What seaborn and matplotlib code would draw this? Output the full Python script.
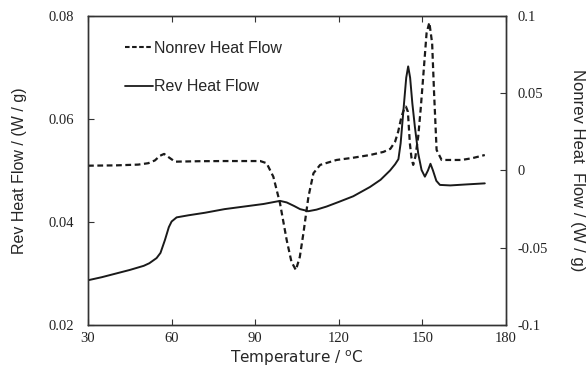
import matplotlib
matplotlib.use("Agg")
import matplotlib.pyplot as plt
import seaborn as sns
import pandas as pd
from matplotlib.lines import Line2D

# Reversing heat flow (left axis)
rev_temp = [30, 35, 40, 45, 50, 52, 54.6, 56, 57.6, 59, 60, 61.8, 66, 72, 79, 86, 93,
            98.9, 101.3, 104, 106.1, 109.1, 112, 115.6, 120, 125.2, 131.2, 135, 138.4,
            140.2, 141.4, 142.2, 143.2, 144.2, 144.9, 145.6, 146.4, 147.3, 148.5, 149.7,
            150.9, 152, 152.9, 153.8, 155, 156.3, 160, 166, 172.4]
rev_flow = [0.0287, 0.0293, 0.0300, 0.0307, 0.0315, 0.0320, 0.0330, 0.0340, 0.0365, 0.0390,
            0.0401, 0.0409, 0.0413, 0.0418, 0.0425, 0.0430, 0.0435,
            0.0441, 0.0438, 0.0431, 0.0425, 0.0421, 0.0424, 0.0430, 0.0439, 0.0450, 0.0468,
            0.0482, 0.0500, 0.0512, 0.0522, 0.0553, 0.0617, 0.0680, 0.0702, 0.0680, 0.0630,
            0.0585, 0.0533, 0.0501, 0.0488, 0.0500, 0.0513, 0.0500, 0.0480, 0.0472, 0.0471,
            0.0473, 0.0475]

# Non-reversing heat flow (right axis)
nonrev_temp = [30, 40, 48, 51.6, 54, 55.8, 57.3, 59, 61.2, 70, 79.2, 91.8, 94.1, 96.5,
               98.9, 101.3, 103, 104.6, 106, 107.3, 109.1, 110.9, 113.3, 119.2, 125,
               131.2, 136, 138.5, 140.2, 141.3, 142.5, 143.4, 144.1, 144.8, 145.5, 146.1,
               146.7, 147.5, 148.5, 149.4, 150.3, 151.5, 152.5, 153.5, 154.2, 155.1, 156.9,
               164.1, 168, 172.4]
nonrev_flow = [0.0031, 0.0033, 0.0038, 0.0047, 0.0065, 0.0095, 0.0107, 0.0085, 0.0057,
               0.0060, 0.0061, 0.0061, 0.0047, -0.0040, -0.0212, -0.0450, -0.0590, -0.0644,
               -0.0560, -0.0406, -0.0170, -0.0018, 0.0036, 0.0068, 0.0082, 0.0100, 0.0120,
               0.0140, 0.0186, 0.0250, 0.0348, 0.0395, 0.0413, 0.0380, 0.0176, 0.0080,
               0.0036, 0.0090, 0.0219, 0.0400, 0.0607, 0.0888, 0.0957, 0.0823, 0.0500,
               0.0133, 0.0068, 0.0068, 0.0080, 0.0100]

x_ticks = [30, 60, 90, 120, 150, 180]
rev_ticks = [0.02, 0.04, 0.06, 0.08]
nonrev_ticks = [-0.1, -0.05, 0, 0.05, 0.1]
nonrev_ticklabels = ["-0.1", "-0.05", "0", "0.05", "0.1"]

rev_df = pd.DataFrame({"T": rev_temp, "flow": rev_flow})
nonrev_df = pd.DataFrame({"T": nonrev_temp, "flow": nonrev_flow})

sns.set_theme(style="white")
plt.rcParams["font.family"] = ["DejaVu Sans"]

fig = plt.figure(figsize=(5.88, 3.78), dpi=100)
ax = fig.add_axes([0.1497, 0.140, 0.7108, 0.818])
ax2 = ax.twinx()

sns.lineplot(data=rev_df, x="T", y="flow", ax=ax, color="#1a1a1a", lw=1.4,
             legend=False, sort=False)
sns.lineplot(data=nonrev_df, x="T", y="flow", ax=ax2, color="#1a1a1a", lw=1.6,
             linestyle=(0, (2.6, 1.6)), legend=False, sort=False)

ax.set_xlim(30, 180)
ax.set_ylim(0.02, 0.08)
ax2.set_ylim(-0.1, 0.1)
ax.set_xticks(x_ticks)
ax.set_yticks(rev_ticks)
ax2.set_yticks(nonrev_ticks)

serif = ["Liberation Serif"]
ax.set_xticklabels([str(t) for t in x_ticks], family=serif, fontsize=10.5, color="#222222")
ax.set_yticklabels([f"{t:.2f}" for t in rev_ticks], family=serif, fontsize=10.5, color="#222222")
ax2.set_yticklabels(nonrev_ticklabels, family=serif, fontsize=10.5, color="#222222")

for a in (ax, ax2):
    for s in a.spines.values():
        s.set_color("#333333")
        s.set_linewidth(1.0)
ax.tick_params(axis="both", direction="in", length=4, width=0.8, color="#333333",
               top=True, bottom=True, left=True, right=False)
ax.tick_params(axis="y", pad=10)
ax.tick_params(axis="x", pad=5)
ax2.tick_params(axis="y", direction="in", length=4, width=0.8, color="#333333", pad=8)

ax.set_xlabel("Temperature / $^{\\mathrm{o}}$C", fontsize=11, family=["DejaVu Sans"])
ax.xaxis.set_label_coords(0.5, -0.075)
ax.set_ylabel("Rev Heat Flow / (W / g)", fontsize=11.5, family=["Liberation Sans"],
              va="center")
ax.yaxis.set_label_coords(-0.163, 0.5)
ax2.set_ylabel("Nonrev Heat  Flow / (W / g)", fontsize=12, family=["Liberation Sans"],
               rotation=-90, va="center")
ax2.yaxis.set_label_coords(1.172, 0.5)

handles = [Line2D([], [], color="#1a1a1a", lw=1.5, linestyle=(0, (2.2, 1.2))),
           Line2D([], [], color="#1a1a1a", lw=1.3)]
leg = ax.legend(handles, ["Nonrev Heat Flow", "Rev Heat Flow"], loc="upper left",
                bbox_to_anchor=(0.055, 0.965), frameon=False, handlelength=1.7,
                handletextpad=0.1, labelspacing=1.45,
                prop={"family": "Liberation Sans", "size": 11.5})

fig.savefig("out.png", dpi=100)
